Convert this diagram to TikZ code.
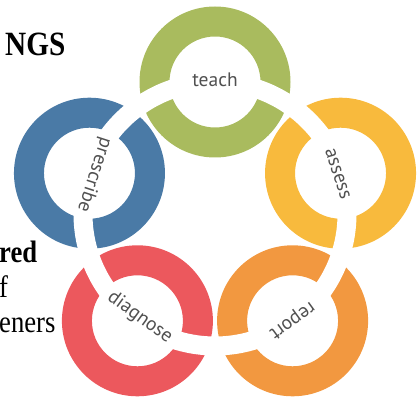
\documentclass[tikz,border=0pt]{standalone}
\usepackage{fontspec}
\setmainfont{Liberation Serif}
\newfontfamily\labelfont{PT Sans}
\usepackage{xcolor}
\usepackage{tikz}
\usetikzlibrary{calc}

\definecolor{teachgreen}{RGB}{169,187,94}
\definecolor{assessyellow}{RGB}{248,186,61}
\definecolor{reportorange}{RGB}{242,152,64}
\definecolor{diagnosered}{RGB}{236,88,93}
\definecolor{prescribeblue}{RGB}{74,122,166}
\definecolor{labelgray}{RGB}{80,80,80}

\tikzset{
  ringlabel/.style={labelgray, font=\labelfont\fontsize{19.5}{22}\selectfont, inner sep=0pt},
  pagetext/.style={anchor=base west, inner sep=0pt, transform shape, xscale=0.86,
    font=\fontsize{31}{36}\selectfont}
}

\begin{document}
\begin{tikzpicture}[x=1pt,y=1pt]
\useasboundingbox (0,0) rectangle (417,399);
\coordinate (mid) at (215,185);

% Rings sitting on the cycle
\foreach \ang/\col in {90/teachgreen, 18/assessyellow, -54/reportorange, -126/diagnosered, 162/prescribeblue} {
    \fill[\col, even odd rule] ($(mid)+(\ang:132)$) circle (75.5) circle (45.5);
}

% White band that links the rings
\draw[white, line width=19pt] (mid) circle (132);

% Ring labels, written along the band
\foreach \ang/\rad/\rot/\name in {90/134/0/teach, 18/129/-72/assess, -54/131/-144/report, -126/128/-36/diagnose, 162/127/-108/prescribe} {
    \node[ringlabel, rotate=\rot] (\name) at ($(mid)+(\ang:\rad)$) {\name};
}

% Cut-off page text on the left
\node[pagetext, font=\bfseries\fontsize{34}{40}\selectfont] (heading) at (5,343) {NGS};
\node[pagetext, font=\bfseries\fontsize{31}{36}\selectfont] (lineone) at (-1,136) {red};
\node[pagetext] (linetwo) at (-1,102) {f};
\node[pagetext] (linethree) at (-1,67) {eners};
\end{tikzpicture}
\end{document}
